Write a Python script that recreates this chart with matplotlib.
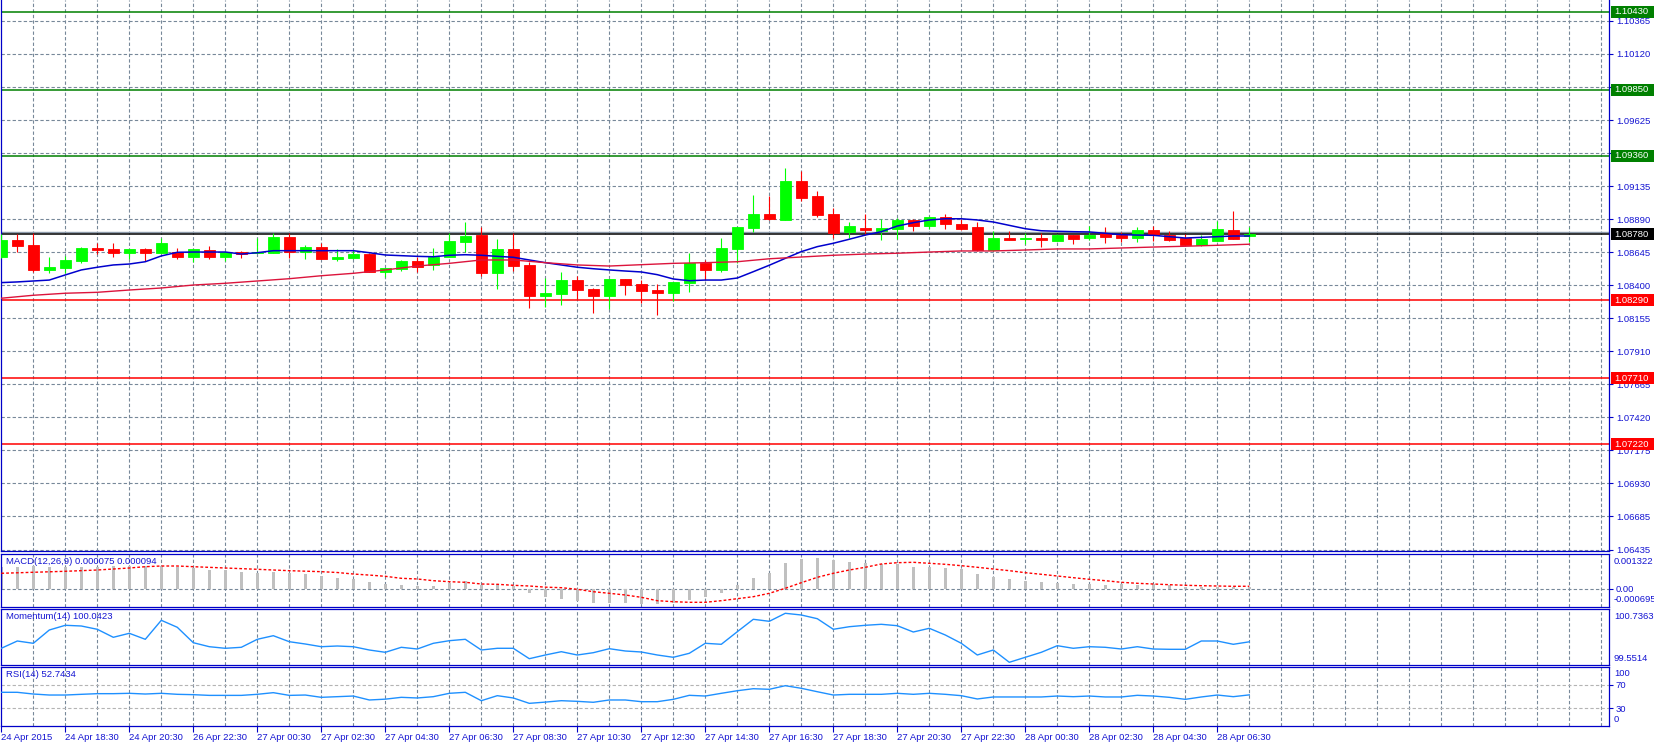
import matplotlib
matplotlib.use('Agg')
import matplotlib.pyplot as plt
from matplotlib import font_manager
from matplotlib.patches import Rectangle
from matplotlib.transforms import blended_transform_factory, offset_copy

# EURUSD M30, 24-28 Apr 2015
opens = [1.08610, 1.08736, 1.08699, 1.08514, 1.08528, 1.08580, 1.08677, 1.08670, 1.08640, 1.08670,
         1.08640, 1.08647, 1.08610, 1.08662, 1.08610, 1.08647, 1.08640, 1.08640, 1.08759, 1.08647,
         1.08684, 1.08595, 1.08603, 1.08632, 1.08499, 1.08521, 1.08580, 1.08551, 1.08610, 1.08721,
         1.08773, 1.08491, 1.08670, 1.08551, 1.08321, 1.08335, 1.08439, 1.08373, 1.08321, 1.08447,
         1.08410, 1.08365, 1.08343, 1.08417, 1.08566, 1.08514, 1.08670, 1.08825, 1.08929, 1.08885,
         1.09174, 1.09063, 1.08929, 1.08796, 1.08825, 1.08803, 1.08818, 1.08885, 1.08840, 1.08907,
         1.08855, 1.08833, 1.08662, 1.08751, 1.08744, 1.08751, 1.08729, 1.08773, 1.08751, 1.08788,
         1.08773, 1.08751, 1.08811, 1.08773, 1.08751, 1.08699, 1.08729, 1.08811, 1.08768]
highs = [1.08781, 1.08781, 1.08788, 1.08610, 1.08618, 1.08684, 1.08714, 1.08714, 1.08670, 1.08677,
         1.08751, 1.08677, 1.08670, 1.08692, 1.08655, 1.08655, 1.08751, 1.08788, 1.08788, 1.08699,
         1.08714, 1.08670, 1.08662, 1.08640, 1.08528, 1.08588, 1.08610, 1.08677, 1.08788, 1.08870,
         1.08833, 1.08744, 1.08788, 1.08573, 1.08454, 1.08499, 1.08469, 1.08380, 1.08447, 1.08447,
         1.08439, 1.08410, 1.08425, 1.08640, 1.08588, 1.08751, 1.08833, 1.09070, 1.09063, 1.09273,
         1.09248, 1.09100, 1.08974, 1.08870, 1.08929, 1.08892, 1.08900, 1.08892, 1.08914, 1.08929,
         1.08892, 1.08870, 1.08803, 1.08803, 1.08788, 1.08788, 1.08781, 1.08773, 1.08840, 1.08833,
         1.08796, 1.08833, 1.08840, 1.08803, 1.08781, 1.08773, 1.08877, 1.08952, 1.08833]
lows = [1.08605, 1.08647, 1.08499, 1.08491, 1.08491, 1.08566, 1.08632, 1.08610, 1.08595, 1.08580,
        1.08640, 1.08595, 1.08573, 1.08595, 1.08580, 1.08603, 1.08640, 1.08640, 1.08603, 1.08595,
        1.08595, 1.08580, 1.08595, 1.08499, 1.08462, 1.08506, 1.08499, 1.08514, 1.08610, 1.08647,
        1.08469, 1.08373, 1.08506, 1.08232, 1.08239, 1.08254, 1.08298, 1.08194, 1.08224, 1.08328,
        1.08269, 1.08180, 1.08283, 1.08350, 1.08439, 1.08499, 1.08566, 1.08796, 1.08885, 1.08885,
        1.09026, 1.08909, 1.08751, 1.08751, 1.08773, 1.08736, 1.08744, 1.08803, 1.08818, 1.08818,
        1.08811, 1.08655, 1.08655, 1.08736, 1.08707, 1.08684, 1.08729, 1.08707, 1.08736, 1.08714,
        1.08721, 1.08721, 1.08729, 1.08729, 1.08692, 1.08692, 1.08729, 1.08744, 1.08721]
closes = [1.08736, 1.08692, 1.08514, 1.08536, 1.08588, 1.08677, 1.08662, 1.08640, 1.08670, 1.08640,
          1.08714, 1.08610, 1.08670, 1.08610, 1.08647, 1.08632, 1.08647, 1.08759, 1.08647, 1.08684,
          1.08595, 1.08610, 1.08632, 1.08499, 1.08528, 1.08580, 1.08536, 1.08610, 1.08729, 1.08766,
          1.08491, 1.08670, 1.08543, 1.08321, 1.08343, 1.08439, 1.08365, 1.08321, 1.08447, 1.08402,
          1.08358, 1.08343, 1.08425, 1.08566, 1.08514, 1.08677, 1.08833, 1.08929, 1.08892, 1.09174,
          1.09050, 1.08922, 1.08788, 1.08840, 1.08811, 1.08825, 1.08885, 1.08840, 1.08907, 1.08855,
          1.08818, 1.08662, 1.08751, 1.08736, 1.08751, 1.08736, 1.08773, 1.08744, 1.08773, 1.08759,
          1.08751, 1.08811, 1.08773, 1.08736, 1.08699, 1.08744, 1.08818, 1.08744, 1.08780]

ma_fast = [1.08420, 1.08425, 1.08432, 1.08439, 1.08477, 1.08514, 1.08534, 1.08551, 1.08558, 1.08575,
           1.08618, 1.08645, 1.08647, 1.08647, 1.08647, 1.08632, 1.08642, 1.08657, 1.08657, 1.08657,
           1.08657, 1.08657, 1.08657, 1.08642, 1.08625, 1.08620, 1.08615, 1.08612, 1.08623, 1.08627,
           1.08623, 1.08615, 1.08608, 1.08588, 1.08568, 1.08551, 1.08534, 1.08523, 1.08514, 1.08506,
           1.08499, 1.08479, 1.08447, 1.08434, 1.08439, 1.08439, 1.08454, 1.08501, 1.08549, 1.08600,
           1.08650, 1.08687, 1.08712, 1.08742, 1.08773, 1.08798, 1.08840, 1.08865, 1.08885, 1.08894,
           1.08894, 1.08885, 1.08870, 1.08845, 1.08820, 1.08805, 1.08801, 1.08798, 1.08796, 1.08786,
           1.08776, 1.08773, 1.08771, 1.08761, 1.08751, 1.08756, 1.08761, 1.08766, 1.08766]
# slow MA read every second bar
ma_slow_x = list(range(0, 79, 2))
ma_slow = [1.08304, 1.08326, 1.08341, 1.08348, 1.08365, 1.08380, 1.08402, 1.08415, 1.08432, 1.08449,
           1.08471, 1.08489, 1.08514, 1.08543, 1.08563, 1.08588, 1.08588, 1.08568, 1.08551, 1.08543,
           1.08553, 1.08563, 1.08568, 1.08575, 1.08597, 1.08610, 1.08623, 1.08632, 1.08638, 1.08647,
           1.08655, 1.08655, 1.08662, 1.08670, 1.08670, 1.08677, 1.08684, 1.08690, 1.08697, 1.08705]

macd_main = [0.000839, 0.000839, 0.000865, 0.000839, 0.000839, 0.000816, 0.000839, 0.000865, 0.000865, 0.000865,
             0.000865, 0.000816, 0.000789, 0.000713, 0.000713, 0.000649, 0.000611, 0.000649, 0.000611, 0.000561,
             0.000485, 0.000420, 0.000371, 0.000268, 0.000180, 0.000142, 0.000100, 0.000104, 0.000207, 0.000295,
             0.000142, 0.000180, 0.000104, -0.000151, -0.000303, -0.000379, -0.000455, -0.000554, -0.000531, -0.000531,
             -0.000581, -0.000581, -0.000531, -0.000429, -0.000326, -0.000151, 0.000142, 0.000420, 0.000611, 0.000991,
             0.001132, 0.001181, 0.001094, 0.001018, 0.000968, 0.000930, 0.000942, 0.000839, 0.000839, 0.000789,
             0.000740, 0.000561, 0.000458, 0.000371, 0.000306, 0.000257, 0.000207, 0.000180, 0.000180, 0.000142,
             0.000180, 0.000154, 0.000180, 0.000131, 0.000078, 0.000078, 0.000078, 0.000066, 0.000075]
macd_signal = [0.000588, 0.000607, 0.000626, 0.000645, 0.000664, 0.000688, 0.000713, 0.000751, 0.000789, 0.000839,
               0.000865, 0.000865, 0.000839, 0.000814, 0.000789, 0.000765, 0.000740, 0.000713, 0.000687, 0.000668,
               0.000649, 0.000618, 0.000560, 0.000520, 0.000473, 0.000397, 0.000371, 0.000306, 0.000268, 0.000245,
               0.000180, 0.000169, 0.000131, 0.000104, 0.000060, 0.000040, -0.000021, -0.000113, -0.000174, -0.000238,
               -0.000326, -0.000455, -0.000493, -0.000516, -0.000516, -0.000455, -0.000379, -0.000303, -0.000174, 0.000017,
               0.000230, 0.000435, 0.000588, 0.000713, 0.000816, 0.000942, 0.000991, 0.001006, 0.000968, 0.000930,
               0.000877, 0.000816, 0.000751, 0.000687, 0.000611, 0.000550, 0.000485, 0.000420, 0.000359, 0.000306,
               0.000245, 0.000207, 0.000180, 0.000154, 0.000131, 0.000116, 0.000104, 0.000093, 0.000094]

momentum = [99.9048, 100.0592, 100.0105, 100.2920, 100.3914, 100.3766, 100.3068, 100.1375, 100.2221, 100.0952,
            100.4972, 100.3491, 100.0232, 99.9386, 99.9048, 99.9259, 100.0952, 100.1714, 100.0444, 99.9957,
            99.9386, 99.9534, 99.9386, 99.8688, 99.8201, 99.9259, 99.8899, 100.0105, 100.0656, 100.0952,
            99.8688, 99.9048, 99.9048, 99.6847, 99.7630, 99.8328, 99.7630, 99.8117, 99.8963, 99.8476,
            99.8265, 99.7630, 99.7143, 99.7990, 100.0105, 99.9894, 100.2560, 100.5184, 100.4760, 100.6453,
            100.6094, 100.5311, 100.3068, 100.3618, 100.3914, 100.4126, 100.3829, 100.2496, 100.3279, 100.1862,
            100.0105, 99.7630, 99.8688, 99.6085, 99.7143, 99.8201, 99.9598, 99.9048, 99.9386, 99.9259,
            99.8899, 99.9386, 99.8899, 99.8836, 99.8836, 100.0592, 100.0592, 99.9894, 100.0423]

rsi = [57.1, 57.1, 54.2, 52.5, 52.5, 53.7, 54.8, 54.8, 55.4, 54.2,
       55.4, 53.7, 53.1, 51.9, 51.9, 51.9, 53.7, 56.5, 51.9, 52.5,
       48.6, 49.7, 50.8, 44.1, 45.5, 48.6, 47.5, 49.7, 55.4, 57.1,
       42.9, 51.4, 47.5, 38.4, 40.5, 42.9, 41.8, 40.2, 44.1, 44.1,
       41.2, 41.2, 45.2, 52.0, 50.8, 55.4, 59.8, 63.2, 62.2, 68.3,
       63.9, 58.1, 52.5, 53.7, 53.7, 53.7, 55.4, 53.7, 55.4, 53.7,
       51.4, 45.8, 49.2, 49.2, 49.2, 49.2, 50.8, 49.7, 50.8, 49.2,
       49.2, 52.0, 50.8, 48.6, 45.2, 49.2, 52.5, 49.7, 52.7434]

time_labels = ['24 Apr 2015', '24 Apr 18:30', '24 Apr 20:30', '26 Apr 22:30', '27 Apr 00:30',
               '27 Apr 02:30', '27 Apr 04:30', '27 Apr 06:30', '27 Apr 08:30', '27 Apr 10:30',
               '27 Apr 12:30', '27 Apr 14:30', '27 Apr 16:30', '27 Apr 18:30', '27 Apr 20:30',
               '27 Apr 22:30', '28 Apr 00:30', '28 Apr 02:30', '28 Apr 04:30', '28 Apr 06:30']

price_ticks = [1.10365, 1.10120, 1.09870, 1.09625, 1.09380, 1.09135, 1.08890, 1.08645, 1.08400,
               1.08155, 1.07910, 1.07665, 1.07420, 1.07175, 1.06930, 1.06685, 1.06435]
resistance = [1.10430, 1.09850, 1.09360]
support = [1.08290, 1.07710, 1.07220]
bid = 1.08780
ask = 1.08793

macd_range = (-0.000695, 0.001322)
mom_range = (99.5514, 100.7363)
price_range = (1.064273, 1.105182)

# ---- fonts / colours ----
names = {f.name for f in font_manager.fontManager.ttflist}
if 'Liberation Sans Narrow' in names:
    fam, fs = 'Liberation Sans Narrow', 7.8
else:
    fam, fs = 'Liberation Sans', 6.8
plt.rcParams['font.family'] = [fam, 'DejaVu Sans']

BLUE = '#0000C8'
TXT = '#1414D2'
GRID = '#778899'
DASH = (0, (3, 2))

W, H = 1654, 747
AXIS_X = 1609


def panel(top, bottom):
    return [0.6 / W, 1 - bottom / H, (AXIS_X - 0.6) / W, (bottom - top) / H]


fig = plt.figure(figsize=(W / 100, H / 100), dpi=100)
fig.patch.set_facecolor('white')
ax = fig.add_axes(panel(0, 551))
ax_macd = fig.add_axes(panel(554, 607))
ax_mom = fig.add_axes(panel(609, 665))
ax_rsi = fig.add_axes(panel(667, 726))

bars = list(range(len(opens)))
x_left = (0.6 - 1.3) / 16
x_right = (AXIS_X - 1.3) / 16

for a in (ax, ax_macd, ax_mom, ax_rsi):
    a.set_xlim(x_left, x_right)
    for sp in a.spines.values():
        sp.set_color(BLUE)
        sp.set_linewidth(0.9)
    a.tick_params(axis='x', bottom=False, labelbottom=False)
    a.tick_params(axis='y', left=False, labelleft=False, right=True, labelright=True,
                  length=3, width=0.8, color=BLUE, labelcolor=TXT, labelsize=fs, pad=2)
    a.yaxis.tick_right()
    for k in range(2, 101, 2):
        a.axvline(k, color=GRID, lw=0.8, ls=DASH, zorder=0.5)

ax.spines['top'].set_visible(False)


def side_text(a, ypos, s, va, dy, axes_frac=False):
    base = a.transAxes if axes_frac else blended_transform_factory(a.transAxes, a.transData)
    tr = offset_copy(base, fig=fig, x=5, y=dy, units='dots')
    a.text(1.0, ypos, s, transform=tr, va=va, ha='left', color=TXT, fontsize=fs, clip_on=False)


def name_text(a, s):
    tr = offset_copy(a.transAxes, fig=fig, x=5, y=-3, units='dots')
    a.text(0, 1, s, transform=tr, va='top', ha='left', color=TXT, fontsize=fs, zorder=6)


# ---- main price panel ----
ax.set_ylim(*price_range)
for p in price_ticks:
    ax.axhline(p, color=GRID, lw=0.8, ls=DASH, zorder=0.5)
ax.set_yticks(price_ticks)
ax.set_yticklabels([f'{p:.5f}' for p in price_ticks])

for p in resistance:
    ax.axhline(p, color='#008000', lw=1.1, zorder=2)
for p in support:
    ax.axhline(p, color='#FF0000', lw=1.1, zorder=2)
ax.axhline(ask, color='#8C9AAA', lw=1.0, zorder=2)
ax.axhline(bid, color='black', lw=1.1, zorder=2)

colors = ['#00FF00' if c >= o else '#FF0000' for o, c in zip(opens, closes)]
ax.vlines(bars, lows, highs, colors=colors, lw=0.8, zorder=3)
ax.bar(bars, [abs(c - o) for o, c in zip(opens, closes)],
       bottom=[min(o, c) for o, c in zip(opens, closes)],
       width=0.66, color=colors, edgecolor=colors, lw=0.6, zorder=3)

ax.plot(bars, ma_fast, color='#0000CD', lw=1.1, zorder=4)
ax.plot(ma_slow_x, ma_slow, color='#DC143C', lw=1.0, zorder=4)

# coloured price boxes on the price scale
px_per_unit = 551 / (price_range[1] - price_range[0])
box_h = 12 / px_per_unit
btr = blended_transform_factory(fig.transFigure, ax.transData)
for vals, fc in ((resistance, '#008000'), (support, '#FF0000'), ([bid], '#000000')):
    for p in vals:
        fig.add_artist(Rectangle(((AXIS_X + 1.5) / W, p - box_h / 2), (W - AXIS_X - 1.5) / W, box_h,
                                 transform=btr, facecolor=fc, edgecolor='none', zorder=5))
        fig.text((AXIS_X + 5) / W, p, f'{p:.5f}', transform=btr, color='white',
                 fontsize=fs, va='center', ha='left', zorder=6)

# ---- MACD ----
ax_macd.set_ylim(*macd_range)
ax_macd.axhline(0, color=GRID, lw=0.8, ls=DASH, zorder=0.5)
ax_macd.bar(bars, macd_main, width=0.16, color='#C0C0C0', zorder=2)
ax_macd.plot(bars, macd_signal, color='#FF0000', lw=1.0, ls=(0, (2, 1.5)), zorder=3)
ax_macd.set_yticks([0])
ax_macd.set_yticklabels(['0.00'])
side_text(ax_macd, 1, f'{macd_range[1]:.6f}', 'top', -3, axes_frac=True)
side_text(ax_macd, 0, f'{macd_range[0]:.6f}', 'top', -6.5)
name_text(ax_macd, f'MACD(12,26,9) {macd_main[-1]:.6f} {macd_signal[-1]:.6f}')

# ---- Momentum ----
ax_mom.set_ylim(*mom_range)
ax_mom.plot(bars, momentum, color='#1E90FF', lw=1.0, zorder=3)
ax_mom.set_yticks([])
side_text(ax_mom, 1, f'{mom_range[1]:.4f}', 'top', -3, axes_frac=True)
side_text(ax_mom, 0, f'{mom_range[0]:.4f}', 'bottom', 2, axes_frac=True)
name_text(ax_mom, f'Momentum(14) {momentum[-1]:.4f}')

# ---- RSI ----
ax_rsi.set_ylim(0, 100)
for lvl in (70, 30):
    ax_rsi.axhline(lvl, color='#B4B4B4', lw=0.8, ls=DASH, zorder=0.5)
ax_rsi.plot(bars, rsi, color='#1E90FF', lw=1.0, zorder=3)
ax_rsi.set_yticks([70, 30])
ax_rsi.set_yticklabels(['70', '30'])
side_text(ax_rsi, 1, '100', 'top', -2, axes_frac=True)
side_text(ax_rsi, 0, '0', 'bottom', 2, axes_frac=True)
name_text(ax_rsi, f'RSI(14) {rsi[-1]:.4f}')

ax_rsi.set_xticks(range(0, len(bars), 4))
ax_rsi.set_xticklabels(time_labels, ha='left')
ax_rsi.tick_params(axis='x', bottom=True, labelbottom=True, length=4, width=0.8,
                   color=BLUE, labelcolor=TXT, labelsize=fs, pad=0.8)

fig.savefig('out.png', dpi=100)
